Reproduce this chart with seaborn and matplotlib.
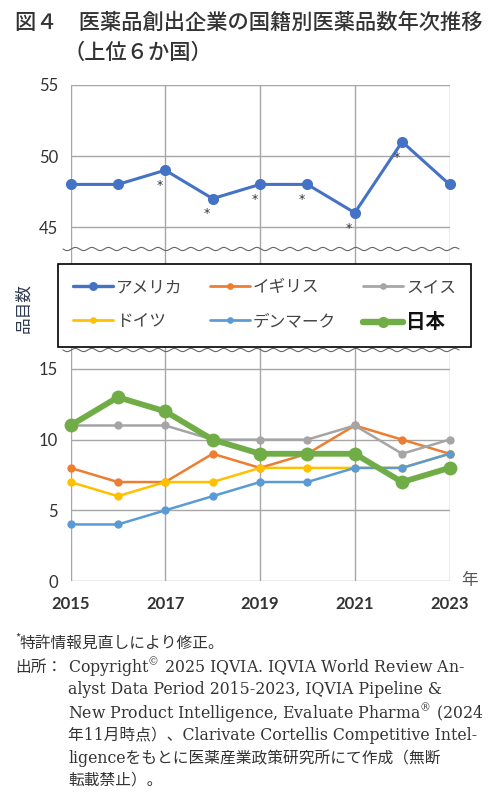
import numpy as np
import matplotlib.pyplot as plt
import seaborn as sns
from matplotlib.lines import Line2D

# data
years = [2015, 2016, 2017, 2018, 2019, 2020, 2021, 2022, 2023]
usa = [48, 48, 49, 47, 48, 48, 46, 51, 48]
uk = [8, 7, 7, 9, 8, 9, 11, 10, 9]
swiss = [11, 11, 11, 10, 10, 10, 11, 9, 10]
germany = [7, 6, 7, 7, 8, 8, 8, 8, 9]
denmark = [4, 4, 5, 6, 7, 7, 8, 8, 9]
japan = [11, 13, 12, 10, 9, 9, 9, 7, 8]
revised_years = [2017, 2018, 2019, 2020, 2021, 2022]
xticks = [2015, 2017, 2019, 2021, 2023]
yticks_top = [45, 50, 55]
yticks_bot = [0, 5, 10, 15]

sns.set_style('white')
plt.rcParams['font.family'] = ['Noto Sans CJK JP', 'DejaVu Sans']
plt.rcParams['mathtext.fontset'] = 'custom'
plt.rcParams['mathtext.rm'] = 'DejaVu Serif'
plt.rcParams['mathtext.it'] = 'DejaVu Serif'

W, H = 500, 802
def rect(l, t, r, b):
    return [l / W, 1 - b / H, (r - l) / W, (b - t) / H]

fig = plt.figure(figsize=(W / 100, H / 100), dpi=100)
ax_top = fig.add_axes(rect(70.5, 85, 449.5, 350))
ax_bot = fig.add_axes(rect(70.5, 350, 449.5, 581))

grid_c = '#a6a6a6'
num_font = ['Lato', 'DejaVu Sans']
for ax in (ax_top, ax_bot):
    ax.set_xlim(2015, 2023)
    ax.set_xticks(xticks)
    ax.grid(True, color=grid_c, lw=1)
    for s in ax.spines.values():
        s.set_visible(False)
    ax.tick_params(length=0, labelsize=12, labelcolor='#333333')
ax_top.set_ylim(36.34, 55)
ax_top.set_yticks(yticks_top)
ax_top.set_xticklabels([])
ax_bot.set_ylim(0, 16.34)
ax_bot.set_yticks(yticks_bot)
ax_top.tick_params(axis='y', pad=9)
ax_bot.tick_params(axis='y', pad=9)
ax_bot.tick_params(axis='x', pad=11)
for lab in ax_top.get_yticklabels() + ax_bot.get_yticklabels():
    lab.set_family(num_font)
ax_bot.set_xticklabels([str(x) for x in xticks], family=num_font, fontweight='bold')

series = [
    ('アメリカ', usa, '#4472c4', 2.2, 8, ax_top),
    ('イギリス', uk, '#ed7d31', 1.8, 6, ax_bot),
    ('スイス', swiss, '#a5a5a5', 1.8, 6, ax_bot),
    ('ドイツ', germany, '#ffc000', 1.8, 6, ax_bot),
    ('デンマーク', denmark, '#5b9bd5', 1.8, 6, ax_bot),
    ('日本', japan, '#70ad47', 4.2, 10, ax_bot),
]
handles = {}
for i, (name, vals, color, lw, ms, ax) in enumerate(series):
    sns.lineplot(x=years, y=vals, ax=ax, color=color, lw=lw, marker='o',
                 markersize=ms, markeredgewidth=0, clip_on=False, zorder=3 + i,
                 legend=False)
    handles[name] = Line2D([], [], color=color, lw=lw * 1.1, marker='o',
                           markersize=ms * 0.8, markeredgewidth=0)

for y in revised_years:
    v = usa[years.index(y)]
    ax_top.annotate('*', xy=(y, v), xytext=(-4, -11), textcoords='offset points',
                    ha='center', va='center', fontsize=9, color='#333333',
                    family='DejaVu Sans')

# wavy break lines
wx = np.linspace(63, 459, 800)
for wy in (249, 350):
    fig.add_artist(Line2D(wx / W, 1 - (wy + 1.6 * np.sin(2 * np.pi * (wx - 63) / 16.5)) / H,
                          color='#666666', lw=0.8))

order = ['アメリカ', 'ドイツ', 'イギリス', 'デンマーク', 'スイス', '日本']
leg = fig.legend([handles[n] for n in order], order, ncol=3, loc='center',
                 bbox_to_anchor=(58 / W, 1 - 346 / H, 413 / W, 81 / H), mode='expand',
                 frameon=True, fancybox=False, edgecolor='black', framealpha=1,
                 fontsize=12, handlelength=2.4, handletextpad=0.2,
                 columnspacing=1.0, labelspacing=1.0, borderpad=0.9,
                 borderaxespad=0)
leg.get_frame().set_linewidth(1.2)
for t in leg.get_texts():
    t.set_color('#444444')
    if t.get_text() == '日本':
        t.set_fontweight('bold')
        t.set_fontsize(14)
        t.set_color('#111111')

fig.text(24 / W, 1 - 308 / H, '品目数', rotation=90, ha='center', va='center',
         fontsize=12, color='#2f3a4f')
fig.text(470 / W, 1 - 580 / H, '年', ha='center', va='center', fontsize=12,
         color='#555555')

# title
fig.text(15 / W, 1 - 23 / H, '図４　医薬品創出企業の国籍別医薬品数年次推移',
         fontsize=15.3, fontweight='medium', va='center', color='#333333')
fig.text(64 / W, 1 - 53 / H, '（上位６か国）', fontsize=15.3, fontweight='medium',
         va='center', color='#333333')

# footnotes
serif = ['DejaVu Serif', 'Noto Sans CJK JP']
fn = dict(fontsize=11.3, va='center', color='#333333', family=serif)
fig.text(15 / W, 1 - 638 / H, '*', fontsize=8, va='center', color='#333333')
fig.text(20 / W, 1 - 643 / H, '特許情報見直しにより修正。', **fn)
fig.text(15 / W, 1 - 667 / H, '出所：', **fn)
fig.text(68 / W, 1 - 667 / H, r'Copyright$^{\mathrm{©}}$ 2025 IQVIA. IQVIA World Review An-', **fn)
fig.text(68 / W, 1 - 690 / H, 'alyst Data Period 2015-2023, IQVIA Pipeline &', **fn)
fig.text(68 / W, 1 - 713 / H, r'New Product Intelligence, Evaluate Pharma$^{\mathrm{®}}$ (2024', **fn)
fig.text(68 / W, 1 - 735 / H, '年11月時点）、Clarivate Cortellis Competitive Intel-', **fn)
fig.text(68 / W, 1 - 758 / H, 'ligenceをもとに医薬産業政策研究所にて作成（無断', **fn)
fig.text(68 / W, 1 - 780 / H, '転載禁止）。', **fn)

fig.savefig('out.png', dpi=100)
